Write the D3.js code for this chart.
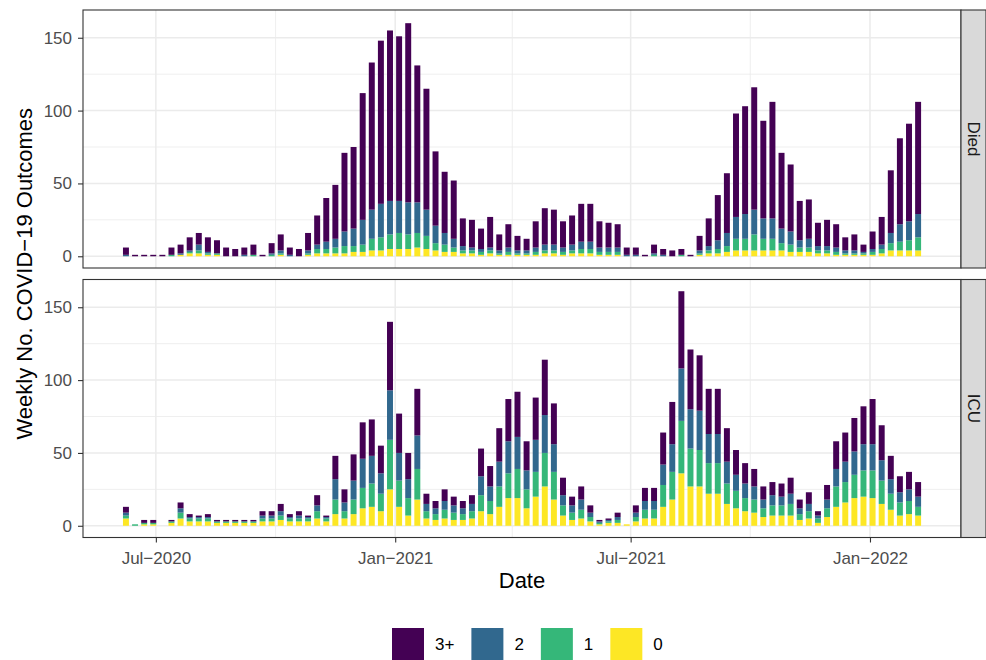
<!DOCTYPE html>
<html lang="en">
<head>
<meta charset="UTF-8">
<title>Weekly COVID-19 Outcomes</title>
<script src="https://d3js.org/d3.v7.min.js"></script>
<style>
    body {
        margin: 0;
        background: #fff;
        font-family: "Liberation Sans", Arial, Helvetica, sans-serif;
        overflow: hidden;
    }
    svg { display: block; }
</style>
</head>
<body>
<div id="chart"></div>
<script>
// weekly counts, first week starts 2020-06-08, one value per week (88 weeks)
const firstWeek = "2020-06-08";
const outcomes = ["Died", "ICU"];
const groups = ["0", "1", "2", "3+"];

const diedZero  = [0,0,0,0,0,0,1,2,2,1,1,0,0,0,0,0,0,1,0,0,1,2,2,2,2,3,3,4,4,5,5,5,6,5,4,3,3,2,2,1,2,1,1,1,1,1,2,2,1,2,2,2,1,1,1,0,0,0,0,0,0,0,0,1,2,2,3,4,4,4,4,4,4,3,3,3,2,2,1,1,1,1,1,2,4,4,4,4];
const diedOne   = [0,0,0,0,0,1,0,1,2,1,1,0,0,0,1,0,1,1,0,0,1,3,3,4,5,4,5,8,9,10,11,10,10,9,5,5,3,2,2,2,2,1,2,1,1,2,2,2,2,2,3,3,2,2,2,0,0,0,1,0,0,1,0,1,2,3,4,8,8,11,8,8,5,5,3,3,2,2,2,1,1,1,2,3,5,6,7,9];
const diedTwo   = [1,0,0,0,0,0,1,1,4,1,0,0,0,1,0,0,1,2,1,0,2,3,5,6,10,12,17,20,23,23,22,22,21,18,12,8,6,3,2,2,2,2,3,2,2,3,4,4,3,4,5,5,3,3,3,1,1,0,1,1,0,0,0,2,3,6,9,15,17,17,14,14,10,9,5,6,3,3,3,2,2,1,2,3,7,12,13,16];
const diedThree = [5,1,1,1,1,5,6,9,8,10,9,6,5,5,7,1,7,11,5,5,12,20,30,37,54,56,87,101,112,117,113,123,94,83,51,42,40,19,19,14,21,11,16,10,8,18,25,24,18,20,26,26,18,17,16,5,5,1,6,4,4,4,1,10,19,31,41,71,74,84,67,80,52,46,27,27,16,18,16,9,11,5,12,19,43,59,67,77];

const icuZero  = [5,0,1,1,0,2,5,3,3,3,2,2,2,2,2,3,3,4,3,3,3,5,3,8,5,8,12,13,10,25,13,7,18,5,4,5,4,4,5,10,8,13,19,19,12,20,27,18,7,4,5,3,1,2,2,1,3,5,5,13,18,36,27,27,22,22,15,12,10,9,6,7,7,7,4,5,2,6,13,16,19,20,19,15,11,7,8,7];
const icuOne   = [2,1,1,1,0,1,4,2,2,2,1,1,1,1,1,2,2,3,2,2,2,5,2,10,5,10,14,16,12,34,18,12,21,5,4,6,5,4,5,11,9,14,17,20,13,17,23,19,7,5,6,3,1,1,2,0,3,6,6,15,19,36,26,25,21,21,14,12,9,9,6,7,7,8,4,5,3,6,14,14,16,18,19,16,11,9,9,6];
const icuTwo   = [2,0,0,0,0,0,3,1,1,1,0,0,0,0,0,2,2,3,1,2,1,4,1,14,6,13,20,19,14,34,19,13,23,5,4,6,5,4,5,13,10,17,22,22,13,22,26,19,7,5,7,3,1,1,2,0,3,6,6,14,19,36,27,27,20,20,15,11,10,9,6,7,6,7,4,5,2,6,12,14,16,18,18,14,10,7,8,7];
const icuThree = [4,0,2,2,0,1,4,2,1,2,1,1,1,1,1,3,3,5,2,3,1,7,1,16,9,18,25,25,19,47,27,18,32,7,5,8,6,5,6,19,14,23,29,31,20,29,38,28,12,6,9,5,1,1,3,0,5,9,9,22,29,53,41,38,31,31,23,17,14,12,9,9,9,11,6,8,3,10,19,20,23,26,31,24,16,11,12,10];

const yMajor = [0, 50, 100, 150];
const yMinor = [25, 75, 125];

const colors = {"0": "#FDE725", "1": "#35B779", "2": "#31688E", "3+": "#440154"};

const W = 986, H = 660;
const panelLeft = 83, panelRight = 961, panelTop = 10;
const panelH = 258, panelGap = 11.5, stripW = 25;
const barDays = 4.6;

const svg = d3.select("#chart").append("svg")
    .attr("width", W)
    .attr("height", H);

// build one row per week and outcome
const start = d3.timeParse("%Y-%m-%d")(firstWeek);
const series = {
    Died: [diedZero, diedOne, diedTwo, diedThree],
    ICU: [icuZero, icuOne, icuTwo, icuThree]
};
const rows = {};
outcomes.forEach(o => {
    rows[o] = series[o][0].map((v, i) => {
        const r = {date: d3.timeDay.offset(start, 7 * i)};
        groups.forEach((g, k) => r[g] = series[o][k][i]);
        return r;
    });
});

// x: data extent incl. bar width, with ggplot style 5% padding
const allDates = rows.Died.map(d => d.date);
let x0 = d3.timeHour.offset(d3.min(allDates), -barDays * 12);
let x1 = d3.timeHour.offset(d3.max(allDates), barDays * 12);
const pad = (x1 - x0) * 0.05;
const x = d3.scaleTime()
    .domain([new Date(+x0 - pad), new Date(+x1 + pad)])
    .range([panelLeft, panelRight]);

const totals = outcomes.flatMap(o => rows[o].map(r => d3.sum(groups, g => r[g])));
const yMax = d3.max(totals);

const stack = d3.stack().keys(groups);
const barW = x(d3.timeHour.offset(start, barDays * 24)) - x(start);

const xMajor = x.ticks(d3.timeMonth.every(6));
const xMinor = x.ticks(d3.timeMonth.every(3)).filter(d => d.getMonth() % 6 !== 0);

outcomes.forEach((o, pi) => {
    const top = panelTop + pi * (panelH + panelGap);
    const y = d3.scaleLinear()
        .domain([-yMax * 0.05, yMax * 1.05])
        .range([top + panelH, top]);

    const g = svg.append("g");

    g.append("rect")
        .attr("x", panelLeft).attr("y", top)
        .attr("width", panelRight - panelLeft).attr("height", panelH)
        .attr("fill", "#fff");

    // grid
    g.selectAll(".ymin").data(yMinor).join("line")
        .attr("x1", panelLeft).attr("x2", panelRight)
        .attr("y1", d => y(d)).attr("y2", d => y(d))
        .attr("stroke", "#EBEBEB").attr("stroke-width", 0.8);
    g.selectAll(".xmin").data(xMinor).join("line")
        .attr("x1", d => x(d)).attr("x2", d => x(d))
        .attr("y1", top).attr("y2", top + panelH)
        .attr("stroke", "#EBEBEB").attr("stroke-width", 0.8);
    g.selectAll(".ymaj").data(yMajor).join("line")
        .attr("x1", panelLeft).attr("x2", panelRight)
        .attr("y1", d => y(d)).attr("y2", d => y(d))
        .attr("stroke", "#EBEBEB").attr("stroke-width", 1.5);
    g.selectAll(".xmaj").data(xMajor).join("line")
        .attr("x1", d => x(d)).attr("x2", d => x(d))
        .attr("y1", top).attr("y2", top + panelH)
        .attr("stroke", "#EBEBEB").attr("stroke-width", 1.5);

    // stacked bars
    const layers = stack(rows[o]);
    g.selectAll("g.layer").data(layers).join("g")
        .attr("class", "layer")
        .attr("fill", d => colors[d.key])
        .selectAll("rect").data(d => d).join("rect")
        .attr("x", d => x(d.data.date) - barW / 2)
        .attr("width", barW)
        .attr("y", d => y(d[1]))
        .attr("height", d => Math.max(0, y(d[0]) - y(d[1])));

    // panel border
    g.append("rect")
        .attr("x", panelLeft).attr("y", top)
        .attr("width", panelRight - panelLeft).attr("height", panelH)
        .attr("fill", "none").attr("stroke", "#333").attr("stroke-width", 1.1);

    // y axis
    const ya = g.append("g")
        .attr("transform", `translate(${panelLeft},0)`)
        .call(d3.axisLeft(y).tickValues(yMajor).tickSize(5).tickPadding(6));
    ya.select(".domain").remove();
    ya.selectAll(".tick line").attr("stroke", "#333").attr("stroke-width", 1.1);
    ya.selectAll(".tick text")
        .attr("fill", "#4D4D4D")
        .style("font-size", "17px")
        .style("font-family", "'Liberation Sans', Arial, sans-serif");

    // strip
    g.append("rect")
        .attr("x", panelRight).attr("y", top)
        .attr("width", stripW).attr("height", panelH)
        .attr("fill", "#D9D9D9").attr("stroke", "#333").attr("stroke-width", 1.1);
    g.append("text")
        .attr("transform", `translate(${panelRight + stripW / 2},${top + panelH / 2}) rotate(90)`)
        .attr("text-anchor", "middle")
        .attr("dy", "0.35em")
        .attr("fill", "#1A1A1A")
        .style("font-size", "17px")
        .text(o);

    if (pi === outcomes.length - 1) {
        const xa = g.append("g")
            .attr("transform", `translate(0,${top + panelH})`)
            .call(d3.axisBottom(x).tickValues(xMajor).tickSize(5).tickPadding(9)
                .tickFormat(d3.timeFormat("%b\u2212%Y")));
        xa.select(".domain").remove();
        xa.selectAll(".tick line").attr("stroke", "#333").attr("stroke-width", 1.1);
        xa.selectAll(".tick text")
            .attr("fill", "#4D4D4D")
            .style("font-size", "17px")
            .style("font-family", "'Liberation Sans', Arial, sans-serif");
    }
});

const bottom = panelTop + 2 * panelH + panelGap;

// axis titles
svg.append("text")
    .attr("x", (panelLeft + panelRight) / 2)
    .attr("y", bottom + 50)
    .attr("text-anchor", "middle")
    .style("font-size", "22px")
    .text("Date");

svg.append("text")
    .attr("transform", `translate(32,${(panelTop + bottom) / 2}) rotate(-90)`)
    .attr("text-anchor", "middle")
    .style("font-size", "22px")
    .text("Weekly No. COVID\u221219 Outcomes");

// legend, reversed so 3+ comes first
const legend = svg.append("g").attr("transform", "translate(392,628)");
let lx = 0;
groups.slice().reverse().forEach(gname => {
    legend.append("rect")
        .attr("x", lx).attr("y", 0)
        .attr("width", 32).attr("height", 32)
        .attr("fill", colors[gname]);
    const t = legend.append("text")
        .attr("x", lx + 32 + 11)
        .attr("y", 16)
        .attr("dy", "0.35em")
        .style("font-size", "17px")
        .attr("fill", "#000")
        .text(gname);
    lx += 32 + 11 + t.node().getComputedTextLength() + 17;
});
</script>
</body>
</html>
